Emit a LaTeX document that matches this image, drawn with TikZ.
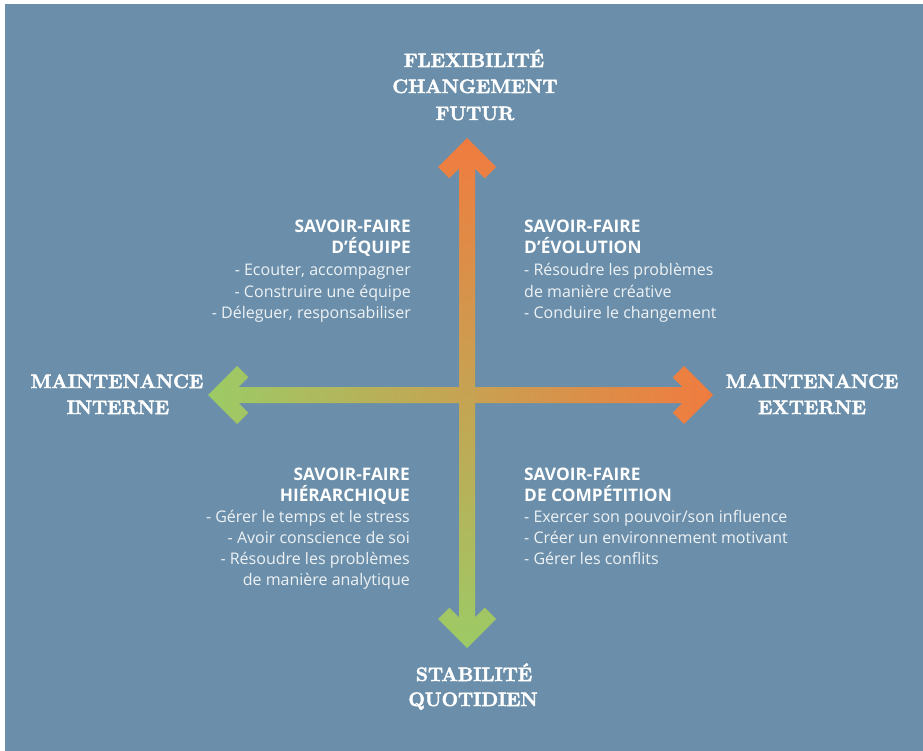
\documentclass[tikz,border=0pt]{standalone}
\usepackage{fontspec}
\newfontfamily\sansbody{Open Sans}
\newfontfamily\polefont[BoldFeatures={FakeBold=2.6}]{Latin Modern Roman}
\definecolor{bg}{HTML}{6B8FAA}
\definecolor{aorange}{HTML}{F07B3F}
\definecolor{agreen}{HTML}{9CCB66}
\definecolor{bodytext}{HTML}{EEF2F5}
\begin{document}
\begin{tikzpicture}[x=1pt,y=-1pt,
  big/.style={font=\polefont\fontsize{19.4}{22}\selectfont\bfseries, text=white, inner sep=0pt, anchor=base},
  head/.style={font=\sansbody\fontsize{17.3}{18}\selectfont\bfseries, text=white, inner sep=0pt},
  body/.style={font=\sansbody\fontsize{16}{18}\selectfont, text=bodytext, inner sep=0pt},
]
\useasboundingbox (0,0) rectangle (923,751);
\fill[bg] (5,4) rectangle (923,751);
% horizontal arrow
\shade[left color=agreen, right color=aorange]
  (208,395) -- (237,366) -- (248.3,377.3) -- (238.6,387) -- (682.4,387) -- (672.7,377.3)
  -- (684,366) -- (713,395) -- (684,424) -- (672.7,412.7) -- (682.4,403) -- (238.6,403)
  -- (248.3,412.7) -- (237,424) -- cycle;
% vertical arrow
\shade[top color=aorange, bottom color=agreen]
  (467,138) -- (496,167) -- (484.7,178.3) -- (475,168.6) -- (475,617.4) -- (484.7,607.7)
  -- (496,619) -- (467,648) -- (438,619) -- (449.3,607.7) -- (459,617.4) -- (459,168.6)
  -- (449.3,178.3) -- (438,167) -- cycle;
% pole labels
\node[big] (flex) at (474,67) {FLEXIBILITÉ};
\node[big] (chg) at (475,93) {CHANGEMENT};
\node[big] (fut) at (475,120) {FUTUR};
\node[big] (mi1) at (117,388) {MAINTENANCE};
\node[big] (mi2) at (118,414) {INTERNE};
\node[big] (me1) at (812,388) {MAINTENANCE};
\node[big] (me2) at (812,414) {EXTERNE};
\node[big] (st1) at (474,681) {STABILITÉ};
\node[big] (st2) at (473,706) {QUOTIDIEN};
% top-left block
\node[head, anchor=base east] (tlh1) at (411,233) {SAVOIR-FAIRE};
\node[head, anchor=base east] (tlh2) at (411,254) {D’ÉQUIPE};
\foreach \t [count=\i from 0] in {{- Ecouter, accompagner},{- Construire une équipe},{- Déleguer, responsabiliser}}
  \node[body, anchor=base east, name=tlb\i] at (411,276+21*\i) {\t};
% top-right block
\node[head, anchor=base west] (trh1) at (524,233) {SAVOIR-FAIRE};
\node[head, anchor=base west] (trh2) at (524,254) {D’ÉVOLUTION};
\foreach \t [count=\i from 0] in {{- Résoudre les problèmes},{de manière créative},{- Conduire le changement}}
  \node[body, anchor=base west, name=trb\i] at (524,276+21*\i) {\t};
% bottom-left block
\node[head, anchor=base east] (blh1) at (410,480) {SAVOIR-FAIRE};
\node[head, anchor=base east] (blh2) at (410,501) {HIÉRARCHIQUE};
\foreach \t [count=\i from 0] in {{- Gérer le temps et le stress},{- Avoir conscience de soi},{- Résoudre les problèmes},{de manière analytique}}
  \node[body, anchor=base east, name=blb\i] at (410,522+21*\i) {\t};
% bottom-right block
\node[head, anchor=base west] (brh1) at (524,480) {SAVOIR-FAIRE};
\node[head, anchor=base west] (brh2) at (524,501) {DE COMPÉTITION};
\foreach \t [count=\i from 0] in {{- Exercer son pouvoir/son influence},{- Créer un environnement motivant},{- Gérer les conflits}}
  \node[body, anchor=base west, name=brb\i] at (524,522+21*\i) {\t};
\end{tikzpicture}
\end{document}
